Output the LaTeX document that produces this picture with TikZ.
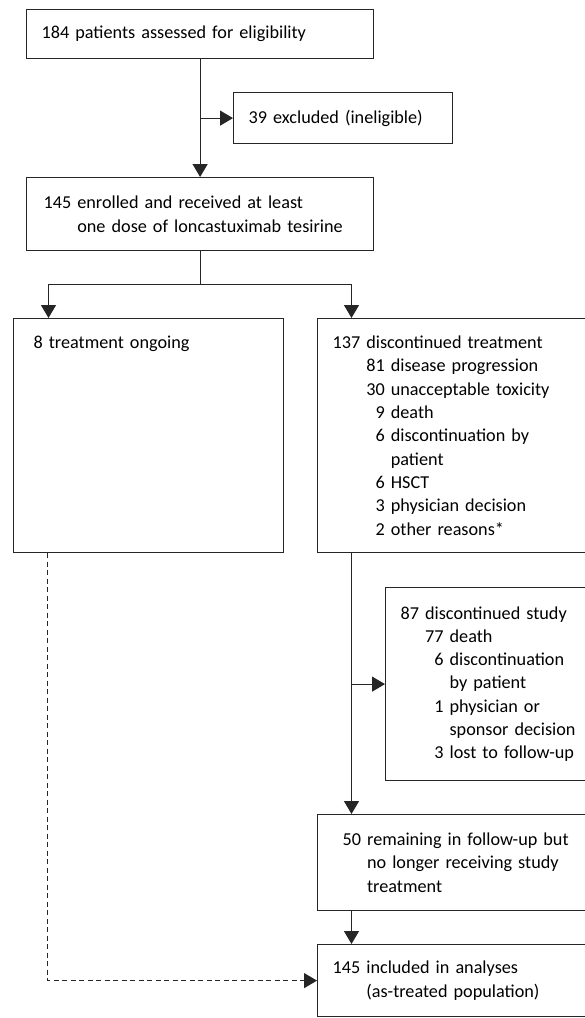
\documentclass[tikz,border=0pt]{standalone}
\usepackage{fontspec}
\setmainfont{Carlito}
\usetikzlibrary{arrows.meta}

\tikzset{
	flowbox/.style={draw=black!85, line width=1.2pt, anchor=north west, align=left,
		inner xsep=15pt, inner ysep=0pt, font=\fontsize{18.2}{23.3}\selectfont},
	flowline/.style={draw=black!85, line width=1.2pt},
	flowarrow/.style={flowline, -{Triangle[width=15pt,length=13pt]}},
	dashedarrow/.style={flowarrow, dash pattern=on 5pt off 3.5pt}
}

\begin{document}
\begin{tikzpicture}[x=1pt,y=-1pt]
	
	\clip (0,0) rectangle (585,1018);
	\fill [white] (0,0) rectangle (585,1018);
	
	\node [flowbox, text width=317pt, minimum height=49pt] (screened) at (26,9) {184 patients assessed for eligibility};
	
	\node [flowbox, text width=189pt, minimum height=51pt] (excluded) at (233,92) {39 excluded (ineligible)};
	
	\node [flowbox, inner xsep=17pt, text width=313pt, minimum height=73pt] (enrolled) at (26,177) {145 enrolled and received at least\\
		\phantom{145 }one dose of loncastuximab tesirine};
	
	\node [flowbox, inner xsep=20pt, text width=230pt, text height=30pt, text depth=204pt] (ongoing) at (13,318) {8 treatment ongoing};
	
	% the right-hand column runs off the edge of the page
	\node [flowbox, text width=260pt, minimum height=234pt] (stopped) at (317,318) {137 discontinued treatment\\
		\phantom{137 }81 disease progression\\
		\phantom{137 }30 unacceptable toxicity\\
		\phantom{137 3}9 death\\
		\phantom{137 3}6 discontinuation by\\
		\phantom{137 36 }patient\\
		\phantom{137 3}6 HSCT\\
		\phantom{137 3}3 physician decision\\
		\phantom{137 3}2 other reasons*};
	
	\node [flowbox, text width=190pt, minimum height=193pt] (withdrawn) at (385,587) {87 discontinued study\\
		\phantom{87 }77 death\\
		\phantom{87 7}6 discontinuation\\
		\phantom{87 76 }by patient\\
		\phantom{87 7}1 physician or\\
		\phantom{87 71 }sponsor decision\\
		\phantom{87 7}3 lost to follow-up};
	
	\node [flowbox, inner xsep=25pt, text width=250pt, minimum height=96pt] (followup) at (317,814) {50 remaining in follow-up but\\
		\phantom{50 }no longer receiving study\\
		\phantom{50 }treatment};
	
	\node [flowbox, text width=260pt, minimum height=72pt] (analysed) at (317,944) {145 included in analyses\\
		\phantom{145 }(as-treated population)};
	
	% connectors
	\draw [flowarrow] (screened) -- (enrolled);
	\draw [flowarrow] (screened.south |- excluded.west) -- (excluded.west);
	
	\coordinate (split) at (enrolled.south |- 0,284.5);
	\draw [flowline] (enrolled) -- (split);
	\draw [flowarrow] (split) -| ([xshift=35.5pt]ongoing.north west);
	\draw [flowarrow] (split) -| ([xshift=34.5pt]stopped.north west);
	
	\draw [flowarrow] ([xshift=34.5pt]stopped.south west) -- ([xshift=34.5pt]followup.north west);
	\draw [flowarrow] ([xshift=34.5pt]stopped.south west |- withdrawn.west) -- (withdrawn.west);
	\draw [flowarrow] ([xshift=34.5pt]followup.south west) -- ([xshift=34.5pt]analysed.north west);
	
	\draw [dashedarrow] ([xshift=34.5pt]ongoing.south west) |- (analysed.west);
	
\end{tikzpicture}
\end{document}
